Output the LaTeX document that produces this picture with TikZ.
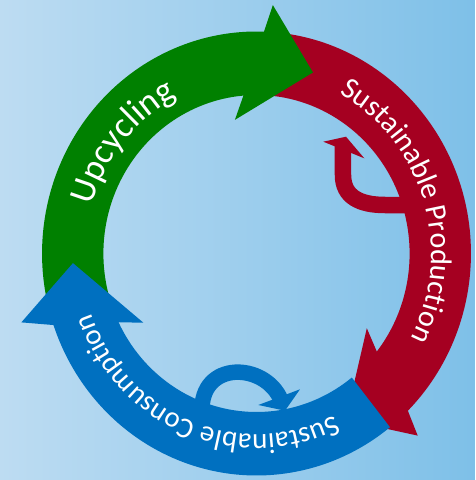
\documentclass[tikz,border=0pt]{standalone}
\usepackage{fontspec}
\setmainfont{Carlito}
\usetikzlibrary{decorations.text}

\definecolor{bgleft}{RGB}{189,220,242}
\definecolor{bgright}{RGB}{126,192,232}
\definecolor{upgreen}{RGB}{0,128,0}
\definecolor{prodred}{RGB}{165,0,33}
\definecolor{consblue}{RGB}{0,112,192}

\tikzset{every picture/.style={line width=0.75pt}}
\tikzset{ringtext/.style={decorate,decoration={text along path,text align=center,text color=white,text={#1}}}}

\begin{document}
\begin{tikzpicture}[x=1pt,y=1pt]
\useasboundingbox (-256.5,-226.5) rectangle (218.5,253.5);

%Background
\shade[left color=bgleft,right color=bgright] (-256.5,-226.5) rectangle (218.5,253.5);

\begin{scope}[xscale=0.966]
%Shape: Circular Arrow [id:red]
\fill[prodred] (86:222) arc[start angle=86,end angle=-45.1,radius=222] -- (-47.5:247) -- (-61:190.25) -- (-33.2:136.5) -- (-38.2:158.5) arc[start angle=-38.2,end angle=86,radius=158.5] -- cycle;
%Shape: Circular Arrow [id:green]
\fill[upgreen] (197:222) arc[start angle=197,end angle=88,radius=222] -- (86.1:249) -- (72.1:190.25) -- (99.5:135.5) -- (94.9:158.5) arc[start angle=94.9,end angle=197,radius=158.5] -- cycle;
%Shape: Circular Arrow [id:blue]
\fill[consblue] (-51.5:222) arc[start angle=-51.5,end angle=-161.2,radius=222] -- (-164.2:253) -- (-177.1:190.25) -- (-149.4:136) -- (-154.3:158.5) arc[start angle=-154.3,end angle=-51.5,radius=158.5] -- cycle;

%Text paths start
\coordinate (uptxt) at (165:177);
\coordinate (prodtxt) at (70:181);
\coordinate (constxt) at (-50:181);
\end{scope}

%Curved Arrow [id:prodloop]
\draw[prodred,line width=16.5] (155.5,48.5) -- (128.5,48.5) .. controls (103.5,48.5) and (86.5,56.5) .. (86.5,78.5) -- (86.5,107.5);
\fill[prodred] (66.8,111.8) -- (89.5,116.8) -- (107.8,95.2) -- cycle;
%Curved Arrow [id:consloop]
\draw[consblue,line width=15.5] (-54.5,-158.5) .. controls (-56.5,-106.5) and (8.5,-108.5) .. (24.5,-146.5);
\fill[consblue] (1.8,-151.5) -- (43.5,-135.8) -- (28.5,-157.2) -- cycle;

% Text Node
\path[ringtext={|\fontsize{36}{36}\selectfont|Upcycling}] (uptxt) arc[start angle=165,end angle=117,x radius=170.98,y radius=177];
% Text Node
\path[ringtext={|\fontsize{30}{30}\selectfont|Sustainable Production}] (prodtxt) arc[start angle=70,end angle=-36,x radius=174.85,y radius=181];
% Text Node
\path[ringtext={|\fontsize{29}{29}\selectfont|Sustainable Consumption}] (constxt) arc[start angle=-50,end angle=-174,x radius=174.85,y radius=181];

\end{tikzpicture}
\end{document}
